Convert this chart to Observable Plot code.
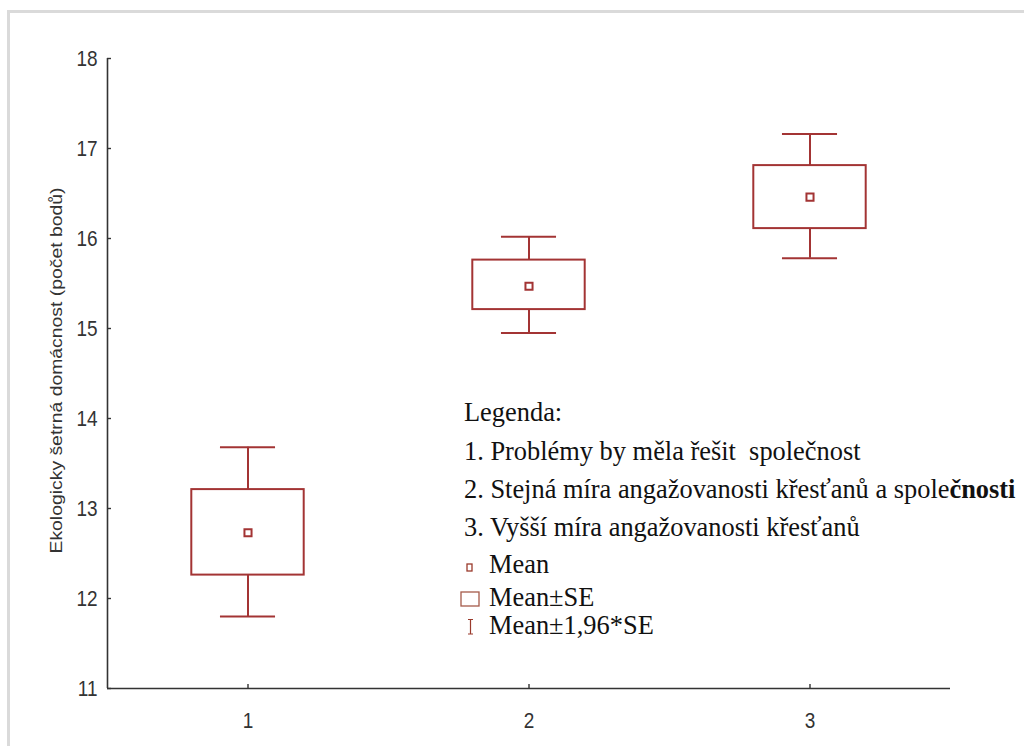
<!DOCTYPE html>
<html>
<head>
<meta charset="utf-8">
<script src="https://cdn.jsdelivr.net/npm/d3@7"></script>
<script src="https://cdn.jsdelivr.net/npm/@observablehq/plot@0.6"></script>
<style>
  html, body { margin: 0; padding: 0; background: #fff; overflow: hidden; }
  #wrap { position: relative; width: 1024px; height: 746px; }
  #frame { position: absolute; left: 7px; top: 10px; width: 1017px; height: 736px;
           border-top: 3px solid #dadada; border-left: 3px solid #dadada; box-sizing: border-box; }
  #chart { position: absolute; left: 0; top: 0; }
</style>
</head>
<body>
<div id="wrap"><div id="frame"></div><div id="chart"></div></div>
<script>
// ---- data ----
const groups = [1, 2, 3];
const means  = [12.73, 15.47, 16.46];
const seLow  = [12.26, 15.21, 16.11];
const seHigh = [13.21, 15.76, 16.81];
const ciLow  = [11.80, 14.95, 15.78];
const ciHigh = [13.68, 16.02, 17.16];
const yTicks = [11, 12, 13, 14, 15, 16, 17, 18];
const xTicks = [1, 2, 3];
const yLabel = "Ekologicky šetrná domácnost (počet bodů)";
const legendTitle = "Legenda:";
const legendGroups = [
  ["1. Problémy by měla řešit  společnost", ""],
  ["2. Stejná míra angažovanosti křesťanů a spole", "čnosti"],
  ["3. Vyšší míra angažovanosti křesťanů", ""]
];
const legendStats = ["Mean", "Mean±SE", "Mean±1,96*SE"];

const rows = groups.map((g, i) => ({g, mean: means[i], seLo: seLow[i], seHi: seHigh[i], ciLo: ciLow[i], ciHi: ciHigh[i]}));

const red = "#a33434";
const boxHalf = 0.2, capHalf = 0.098;

const plot = Plot.plot({
  width: 1024, height: 746,
  marginLeft: 107, marginRight: 74, marginTop: 58, marginBottom: 58,
  style: {fontFamily: "'Liberation Sans', Arial, sans-serif", fontSize: "19px", color: "#333", background: "transparent"},
  x: {domain: [0.5, 3.5]},
  y: {domain: [11, 18]},
  marks: [
    Plot.ruleX([0.5], {stroke: "#333", strokeWidth: 1.6}),
    Plot.ruleY([11], {stroke: "#333", strokeWidth: 1.6}),
    Plot.axisY({ticks: yTicks, tickSize: -4, tickPadding: 14, label: null, tickFormat: d => String(d), stroke: "#333", strokeWidth: 1.4, fontSize: 19}),
    Plot.axisX({ticks: xTicks, tickSize: -4, tickPadding: 29, label: null, tickFormat: d => String(d), stroke: "#333", strokeWidth: 1.4, fontSize: 19}),
    Plot.text([yLabel], {frameAnchor: "left", rotate: -90, textAnchor: "start", dx: -51, dy: 180, fontSize: 17, fill: "#333", className: "ylabel"}),
    // whiskers
    Plot.ruleX(rows, {x: "g", y1: "seHi", y2: "ciHi", stroke: red, strokeWidth: 2}),
    Plot.ruleX(rows, {x: "g", y1: "ciLo", y2: "seLo", stroke: red, strokeWidth: 2}),
    Plot.ruleY(rows, {y: "ciHi", x1: d => d.g - capHalf, x2: d => d.g + capHalf, stroke: red, strokeWidth: 2}),
    Plot.ruleY(rows, {y: "ciLo", x1: d => d.g - capHalf, x2: d => d.g + capHalf, stroke: red, strokeWidth: 2}),
    // SE boxes
    Plot.rect(rows, {x1: d => d.g - boxHalf, x2: d => d.g + boxHalf, y1: "seLo", y2: "seHi", fill: "none", stroke: red, strokeWidth: 2}),
    // means
    Plot.dot(rows, {x: "g", y: "mean", symbol: "square", r: 4, fill: "white", stroke: red, strokeWidth: 2})
  ]
});

document.getElementById("chart").appendChild(plot);
const svg = d3.select(plot);
svg.selectAll(".ylabel text").attr("textLength", 366).attr("lengthAdjust", "spacingAndGlyphs");

// stretch tick labels vertically like the reference (stretched export)
svg.selectAll('g[aria-label="y-axis tick label"] text, g[aria-label="x-axis tick label"] text').each(function() {
  const b = this.getBBox();
  const cy = b.y + b.height / 2;
  const t = this.getAttribute("transform") || "";
  this.setAttribute("transform", `${t} translate(0,${cy}) scale(1,1.2) translate(0,${-cy})`);
});

// legend overlay
const lg = svg.append("g").attr("font-family", "'Liberation Serif', 'Times New Roman', serif")
  .attr("font-size", 26.4).attr("fill", "#111").attr("text-anchor", "start");
lg.append("text").attr("x", 464).attr("y", 421).text(legendTitle);
const baseY = [460, 498, 536];
legendGroups.forEach(([a, b], i) => {
  const t = lg.append("text").attr("x", 464).attr("y", baseY[i]).style("white-space", "pre");
  t.append("tspan").text(a);
  if (b) t.append("tspan").attr("font-weight", "bold").text(b);
});
const statY = [573, 606, 634];
legendStats.forEach((s, i) => {
  lg.append("text").attr("x", 489).attr("y", statY[i]).text(s);
});
const sym = svg.append("g").attr("fill", "none").attr("stroke", "#9a3a2c");
sym.append("rect").attr("x", 467).attr("y", 564).attr("width", 5).attr("height", 7).attr("stroke-width", 1.3);
sym.append("rect").attr("x", 461).attr("y", 592).attr("width", 18).attr("height", 14).attr("stroke", "#a55a4a").attr("stroke-width", 1.3);
sym.append("path").attr("d", "M468,619.5H473M470.5,619.5V634M468,634H473").attr("stroke-width", 1.2);
</script>
</body>
</html>
